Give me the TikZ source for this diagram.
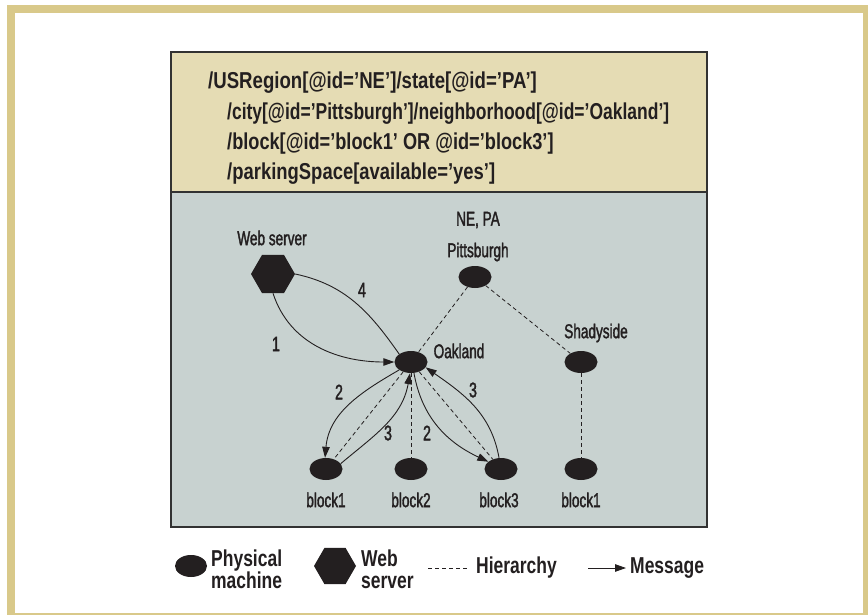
\documentclass[tikz,border=0pt]{standalone}
\usepackage{fontspec}
\usepackage{graphicx}
\setmainfont{Liberation Sans}
\newfontfamily\hdrfont[FakeStretch=0.76]{Liberation Sans}
\newfontfamily\lblfont[FakeStretch=0.68,FakeBold=1.6]{Liberation Sans}
\usetikzlibrary{shapes.geometric,arrows.meta}
\definecolor{frametan}{RGB}{217,201,138}
\definecolor{hdrfill}{RGB}{229,220,180}
\definecolor{grayfill}{RGB}{200,210,208}
\definecolor{nodeblack}{RGB}{35,31,32}
\definecolor{boxgray}{RGB}{50,50,50}
\tikzset{
  machine/.style={ellipse, fill=nodeblack, minimum width=33pt, minimum height=22pt, inner sep=0pt},
  webnode/.style={regular polygon, regular polygon sides=6, fill=nodeblack, minimum size=44pt, inner sep=0pt},
  hdr/.style={font=\hdrfont\bfseries\fontsize{23}{26}\selectfont, text=nodeblack, inner sep=0pt, anchor=base west},
  lbl/.style={font=\lblfont\fontsize{20}{22}\selectfont, text=nodeblack, inner sep=0pt},
  numlbl/.style={font=\lblfont\fontsize{21}{22}\selectfont, text=nodeblack, inner sep=0pt},
  lgd/.style={font=\hdrfont\bfseries\fontsize{23}{22}\selectfont, text=nodeblack, inner sep=0pt, anchor=west, align=left},
  hier/.style={draw=nodeblack, line width=0.8pt, dash pattern=on 4pt off 3pt},
  msg/.style={draw=nodeblack, line width=0.9pt, -{Triangle[length=11pt,width=7.5pt]}},
  msgline/.style={draw=nodeblack, line width=0.9pt},
  boxline/.style={draw=boxgray, line width=1.5pt}
}
\begin{document}
\begin{tikzpicture}[x=1pt,y=-1pt]
\useasboundingbox (0,0) rectangle (868,615);
\fill[white] (0,0) rectangle (868,615);
\draw[frametan,line width=8pt] (11,9) rectangle (867,617);
% panel
\fill[hdrfill] (171,52) rectangle (707,192);
\fill[grayfill] (171,192) rectangle (707,527);
\draw[boxline] (171,52) rectangle (707,527);
\draw[boxline] (171,192) -- (707,192);
% header text
\node[hdr] (h1) at (208,89) {\scalebox{1.065}[1]{/USRegion[@id=’NE’]/state[@id=’PA’]}};
\node[hdr] (h2) at (227,120) {/city[@id=’Pittsburgh’]/neighborhood[@id=’Oakland’]};
\node[hdr] (h3) at (227,150) {\scalebox{1.04}[1]{/block[@id=’block1’ OR @id=’block3’]}};
\node[hdr] (h4) at (227,180) {\scalebox{1.055}[1]{/parkingSpace[available=’yes’]}};
% nodes
\node[webnode] (ws) at (273,274) {};
\node[machine] (pitt) at (475,277) {};
\node[machine] (oak) at (411,362) {};
\node[machine] (shady) at (581,362) {};
\node[machine] (b1) at (326,469) {};
\node[machine] (b2) at (411,469) {};
\node[machine] (b3) at (501,469) {};
\node[machine] (b1r) at (581,469) {};
% labels
\node[lbl] (wsl) at (272,238) {Web server};
\node[lbl] (nepa) at (478,220) {NE, PA};
\node[lbl] (pittl) at (478,252) {Pittsburgh};
\node[lbl] (oakl) at (459,351) {Oakland};
\node[lbl] (shadyl) at (596,333) {Shadyside};
\node[lbl] (b1l) at (326,500) {block1};
\node[lbl] (b2l) at (411,500) {block2};
\node[lbl] (b3l) at (499,500) {block3};
\node[lbl] (b1rl) at (581,500) {block1};
% hierarchy
\draw[hier] (pitt) -- (oak);
\draw[hier] (pitt) -- (shady);
\draw[hier] (oak) -- (b1);
\draw[hier] (oak) -- (b2);
\draw[hier] (oak) -- (b3);
\draw[hier] (shady) -- (b1r);
% messages
\draw[msg] (ws.south) to[out=-72,in=180] (oak.west);
\draw[msgline] (ws.east) to[out=-12,in=125] (oak.north west);
\draw[msg] (oak.south west) to[out=-150,in=85] (b1.95);
\draw[msg] (b1.20) to[out=40,in=-100] (oak.265);
\draw[msg] (oak.285) to[out=-80,in=155] (b3.150);
\draw[msg] (b3.100) to[out=100,in=-35] (oak.-20);
% message numbers
\node[numlbl] (n1) at (276,344) {1};
\node[numlbl] (n4) at (362,290) {4};
\node[numlbl] (n2a) at (339,392) {2};
\node[numlbl] (n3a) at (388,433) {3};
\node[numlbl] (n2b) at (427,433) {2};
\node[numlbl] (n3b) at (473,390) {3};
% legend
\node[machine, minimum width=32pt] (lgm) at (191,566) {};
\node[lgd] (lgmt) at (211,569) {Physical\\machine};
\node[webnode, minimum size=42pt] (lgw) at (335,566) {};
\node[lgd] (lgwt) at (361,569) {Web\\server};
\coordinate (hA) at (428,568);
\coordinate (hB) at (469,568);
\draw[hier] (hA) -- (hB);
\node[lgd] (lgh) at (476,568) {Hierarchy};
\coordinate (mA) at (588,568);
\coordinate (mB) at (626,568);
\draw[msg] (mA) -- (mB);
\node[lgd] (lgmsg) at (630,568) {Message};
\end{tikzpicture}
\end{document}
